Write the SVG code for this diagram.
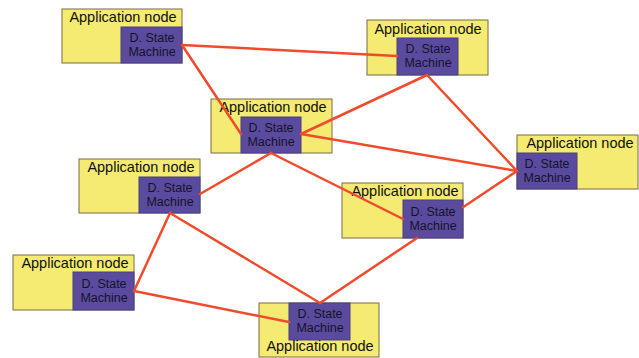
<svg xmlns="http://www.w3.org/2000/svg" width="639" height="358" viewBox="0 0 639 358">
<style>
.app{fill:#F5EB72;stroke:#7A6A48;stroke-width:1}
.sm{fill:#5B4B9E;stroke:#4A3E80;stroke-width:1}
.t{font-family:"Liberation Sans",Arial,sans-serif;font-size:14.5px;fill:#111;text-anchor:middle}
.s{font-family:"Liberation Sans",Arial,sans-serif;font-size:12.5px;fill:#15132a;text-anchor:middle}
.edge{stroke:#EF4B2C;stroke-width:2.5;fill:none;stroke-linecap:round}
</style>
<rect width="639" height="358" fill="#FFFFFF"/>
<g id="n1">
<rect class="app" x="62" y="9" width="120" height="54"/>
<rect class="sm" x="121" y="27" width="61" height="36"/>
<text class="t" x="123" y="22">Application node</text>
<text class="s" x="152" y="42">D. State</text>
<text class="s" x="152" y="56">Machine</text>
</g>
<g id="n2">
<rect class="app" x="367" y="20" width="121" height="55"/>
<rect class="sm" x="397" y="38" width="61" height="37"/>
<text class="t" x="428" y="34">Application node</text>
<text class="s" x="428" y="53">D. State</text>
<text class="s" x="428" y="67">Machine</text>
</g>
<g id="n3">
<rect class="app" x="211" y="99" width="121" height="54"/>
<rect class="sm" x="241" y="117" width="60" height="36"/>
<text class="t" x="273" y="112">Application node</text>
<text class="s" x="271" y="132">D. State</text>
<text class="s" x="271" y="146">Machine</text>
</g>
<g id="n4">
<rect class="app" x="517" y="135" width="121" height="54"/>
<rect class="sm" x="517" y="153" width="60" height="36"/>
<text class="t" x="580" y="148">Application node</text>
<text class="s" x="547" y="168">D. State</text>
<text class="s" x="547" y="182">Machine</text>
</g>
<g id="n5">
<rect class="app" x="79" y="159" width="121" height="54"/>
<rect class="sm" x="139" y="177" width="61" height="36"/>
<text class="t" x="141" y="172">Application node</text>
<text class="s" x="170" y="192">D. State</text>
<text class="s" x="170" y="206">Machine</text>
</g>
<g id="n6">
<rect class="app" x="342" y="183" width="121" height="55"/>
<rect class="sm" x="403" y="200" width="60" height="38"/>
<text class="t" x="405" y="196">Application node</text>
<text class="s" x="433" y="216">D. State</text>
<text class="s" x="433" y="230">Machine</text>
</g>
<g id="n7">
<rect class="app" x="13" y="255" width="121" height="55"/>
<rect class="sm" x="73" y="272" width="61" height="38"/>
<text class="t" x="75" y="268">Application node</text>
<text class="s" x="104" y="288">D. State</text>
<text class="s" x="104" y="302">Machine</text>
</g>
<g id="n8">
<rect class="app" x="259" y="303" width="120" height="54"/>
<rect class="sm" x="289" y="303" width="61" height="37"/>
<text class="s" x="320" y="318">D. State</text>
<text class="s" x="320" y="332">Machine</text>
<text class="t" x="320" y="351">Application node</text>
</g>
<g id="connectors">
<line class="edge" x1="182" y1="45" x2="397" y2="56"/>
<line class="edge" x1="182" y1="45" x2="241" y2="134"/>
<line class="edge" x1="427" y1="75" x2="301" y2="134"/>
<line class="edge" x1="427" y1="75" x2="517" y2="171"/>
<line class="edge" x1="301" y1="134" x2="517" y2="171"/>
<line class="edge" x1="271" y1="153" x2="200" y2="194"/>
<line class="edge" x1="271" y1="153" x2="403" y2="219"/>
<path class="edge" d="M517,171 L463,207.2 M417,238 L320,303"/>
<line class="edge" x1="170" y1="213" x2="134" y2="291"/>
<line class="edge" x1="170" y1="213" x2="320" y2="303"/>
<line class="edge" x1="134" y1="291" x2="289" y2="322"/>
</g>
</svg>
